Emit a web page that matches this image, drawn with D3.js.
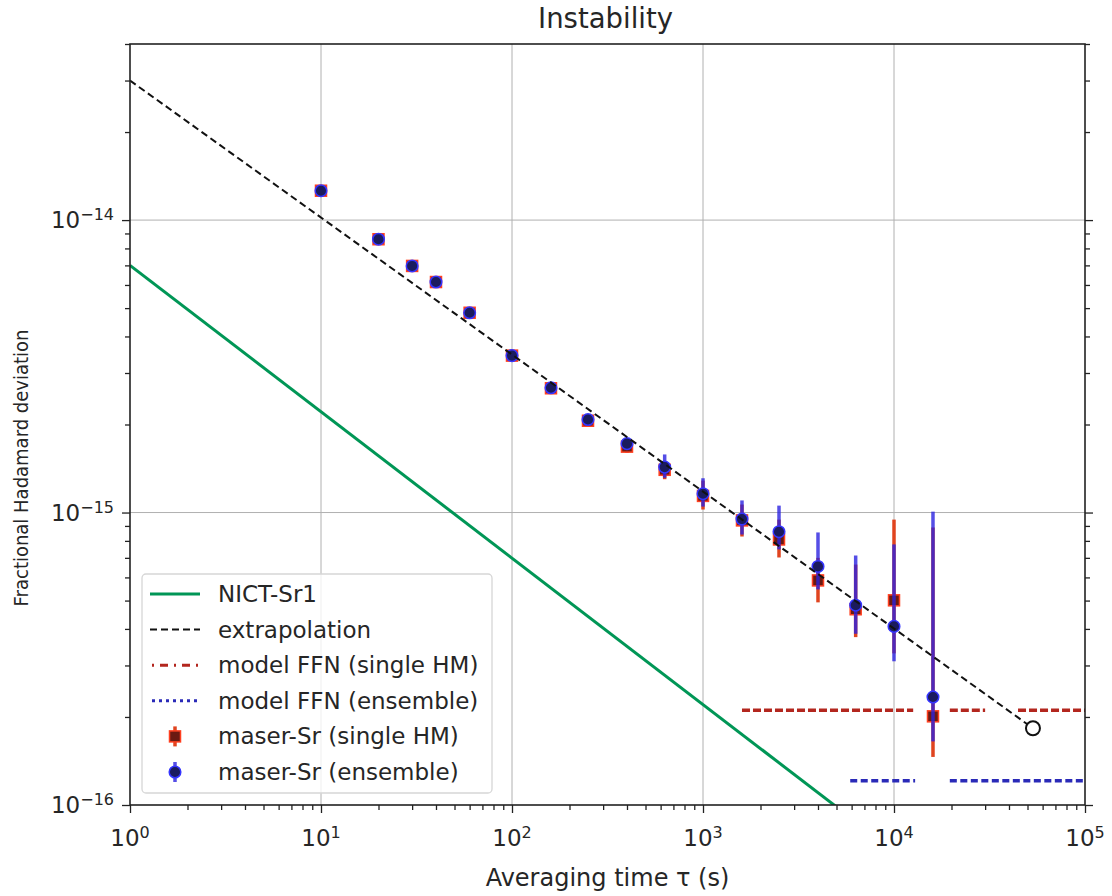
<!DOCTYPE html>
<html>
<head>
<meta charset="utf-8">
<script src="https://cdn.jsdelivr.net/npm/d3@7"></script>
<style>
  body { margin: 0; background: #fff; }
  text { font-family: "DejaVu Sans", sans-serif; fill: #262626; }
</style>
</head>
<body>
<div id="chart"></div>
<script>
// ---- data ----
const tauPts = [10, 20, 30, 40, 60, 100, 160, 250, 400, 630, 1000, 1600, 2500, 4000, 6300, 10000, 16000];

const ensVal = [1.26e-14, 8.6e-15, 6.97e-15, 6.14e-15, 4.82e-15, 3.44e-15, 2.67e-15, 2.08e-15, 1.72e-15, 1.43e-15, 1.16e-15, 9.5e-16, 8.6e-16, 6.54e-16, 4.82e-16, 4.08e-16, 2.34e-16];
const ensHi  = [1.28e-14, 8.75e-15, 7.08e-15, 6.24e-15, 4.9e-15, 3.5e-15, 2.73e-15, 2.14e-15, 1.78e-15, 1.58e-15, 1.31e-15, 1.10e-15, 1.056e-15, 8.55e-16, 7.13e-16, 7.78e-16, 1.007e-15];
const ensLo  = [1.24e-14, 8.45e-15, 6.86e-15, 6.04e-15, 4.74e-15, 3.38e-15, 2.61e-15, 2.02e-15, 1.64e-15, 1.315e-15, 1.048e-15, 8.41e-16, 7.48e-16, 5.46e-16, 3.85e-16, 3.10e-16, 1.65e-16];

const sglVal = [1.26e-14, 8.6e-15, 6.97e-15, 6.14e-15, 4.82e-15, 3.44e-15, 2.66e-15, 2.06e-15, 1.68e-15, 1.40e-15, 1.14e-15, 9.4e-16, 8.09e-16, 5.86e-16, 4.67e-16, 5.01e-16, 2.01e-16];
const sglHi  = [1.28e-14, 8.75e-15, 7.08e-15, 6.24e-15, 4.9e-15, 3.5e-15, 2.72e-15, 2.12e-15, 1.76e-15, 1.50e-15, 1.286e-15, 1.065e-15, 9.46e-16, 7.0e-16, 6.64e-16, 9.46e-16, 8.89e-16];
const sglLo  = [1.24e-14, 8.45e-15, 6.86e-15, 6.04e-15, 4.74e-15, 3.38e-15, 2.60e-15, 2.0e-15, 1.60e-15, 1.30e-15, 1.024e-15, 8.28e-16, 7.02e-16, 4.93e-16, 3.75e-16, 3.3e-16, 1.46e-16];

const nictTau = [1, 1e5];
const nictVal = [7e-15, 2.2e-17];

const extrTau = [1, 53400];
const extrVal = [3e-14, 1.83e-16];

const ffnSingleVal = 2.11e-16;
const ffnSingleSeg = [[1600, 12600], [19600, 30000], [44600, 1e5]];
const ffnEnsVal = 1.21e-16;
const ffnEnsSeg = [[5900, 12900], [19600, 1e5]];

const xMajor = [1, 10, 100, 1000, 10000, 100000];
const xExp = ["0", "1", "2", "3", "4", "5"];
const yMajor = [1e-16, 1e-15, 1e-14];
const yExp = ["\u221216", "\u221215", "\u221214"];

const legendLabels = ["NICT-Sr1", "extrapolation", "model FFN (single HM)", "model FFN (ensemble)", "maser-Sr (single HM)", "maser-Sr (ensemble)"];

// ---- layout ----
const W = 1112, H = 896;
const pL = 130, pR = 1085, pT = 44, pB = 805;

const svg = d3.select("#chart").append("svg")
  .attr("width", W).attr("height", H);

const x = d3.scaleLog().domain([1, 1e5]).range([pL, pR]);
const y = d3.scaleLog().domain([1e-16, 4e-14]).range([pB, pT]);

// minor tick values
const xMinor = [];
for (let e = 0; e < 5; e++) for (let k = 2; k <= 9; k++) xMinor.push(k * Math.pow(10, e));
const yMinor = [];
for (let e = -16; e < -13; e++) for (let k = 2; k <= 9; k++) {
  const v = k * Math.pow(10, e);
  if (v <= 4e-14) yMinor.push(v);
}

// Gridlines
const grid = svg.append("g").attr("stroke", "#b0b0b0").attr("stroke-width", 1);
xMajor.slice(1, -1).forEach(t => {
  grid.append("line").attr("x1", x(t)).attr("x2", x(t)).attr("y1", pT).attr("y2", pB);
});
yMajor.slice(1).forEach(t => {
  grid.append("line").attr("x1", pL).attr("x2", pR).attr("y1", y(t)).attr("y2", y(t));
});

// clip for plot area
svg.append("clipPath").attr("id", "clip")
  .append("rect").attr("x", pL).attr("y", pT).attr("width", pR - pL).attr("height", pB - pT);
const plot = svg.append("g").attr("clip-path", "url(#clip)");

const line = d3.line().x(d => x(d[0])).y(d => y(d[1]));

// NICT-Sr1
plot.append("path")
  .datum(nictTau.map((t, i) => [t, nictVal[i]]))
  .attr("d", line)
  .attr("fill", "none").attr("stroke", "#009656").attr("stroke-width", 3);

// model FFN lines
ffnSingleSeg.forEach(s => {
  plot.append("path").datum([[s[0], ffnSingleVal], [s[1], ffnSingleVal]])
    .attr("d", line).attr("fill", "none")
    .attr("stroke", "#b3261e").attr("stroke-width", 3.5)
    .attr("stroke-dasharray", "8,3");
});
ffnEnsSeg.forEach(s => {
  plot.append("path").datum([[s[0], ffnEnsVal], [s[1], ffnEnsVal]])
    .attr("d", line).attr("fill", "none")
    .attr("stroke", "#2a2ab8").attr("stroke-width", 3.5)
    .attr("stroke-dasharray", "7,3.5");
});

// maser-Sr (single HM)
const sgl = tauPts.map((t, i) => ({ t, v: sglVal[i], lo: sglLo[i], hi: sglHi[i] }));
plot.append("g").selectAll("line").data(sgl).join("line")
  .attr("x1", d => x(d.t)).attr("x2", d => x(d.t))
  .attr("y1", d => y(d.lo)).attr("y2", d => y(d.hi))
  .attr("stroke", "#e0441f").attr("stroke-width", 3.5);
plot.append("g").selectAll("rect").data(sgl).join("rect")
  .attr("x", d => x(d.t) - 5.5).attr("y", d => y(d.v) - 5.5)
  .attr("width", 11).attr("height", 11)
  .attr("fill", "#6b1a12").attr("stroke", "#ff4020").attr("stroke-width", 1.5);

// maser-Sr (ensemble)
const ens = tauPts.map((t, i) => ({ t, v: ensVal[i], lo: ensLo[i], hi: ensHi[i] }));
plot.append("g").selectAll("line").data(ens).join("line")
  .attr("x1", d => x(d.t)).attr("x2", d => x(d.t))
  .attr("y1", d => y(d.lo)).attr("y2", d => y(d.hi))
  .attr("stroke", "#2a22e0").attr("stroke-opacity", 0.8).attr("stroke-width", 3.5);
plot.append("g").selectAll("circle").data(ens).join("circle")
  .attr("cx", d => x(d.t)).attr("cy", d => y(d.v)).attr("r", 5.8)
  .attr("fill", "#1b1b5e").attr("stroke", "#3535ff").attr("stroke-width", 1.5);

// extrapolation
plot.append("path")
  .datum(extrTau.map((t, i) => [t, extrVal[i]]))
  .attr("d", line)
  .attr("fill", "none").attr("stroke", "#111").attr("stroke-width", 2)
  .attr("stroke-dasharray", "7,4");
plot.append("circle")
  .attr("cx", x(extrTau[1])).attr("cy", y(extrVal[1])).attr("r", 7)
  .attr("fill", "#fff").attr("stroke", "#111").attr("stroke-width", 2);

// Axes
const tickSize = 8, minorSize = 5;
const axB = svg.append("g").attr("transform", "translate(0," + pB + ")");
axB.call(d3.axisBottom(x).tickValues(xMinor).tickSize(minorSize).tickFormat(""));
axB.append("g").call(d3.axisBottom(x).tickValues(xMajor).tickSize(tickSize).tickFormat(""));

const axL = svg.append("g").attr("transform", "translate(" + pL + ",0)");
axL.call(d3.axisLeft(y).tickValues(yMinor).tickSize(minorSize).tickFormat(""));
axL.append("g").call(d3.axisLeft(y).tickValues(yMajor).tickSize(tickSize).tickFormat(""));

const axR = svg.append("g").attr("transform", "translate(" + pR + ",0)");
axR.call(d3.axisRight(y).tickValues(yMinor).tickSize(minorSize).tickFormat(""));
axR.append("g").call(d3.axisRight(y).tickValues(yMajor).tickSize(tickSize).tickFormat(""));

svg.selectAll(".domain").remove();
svg.selectAll(".tick line").attr("stroke", "#222").attr("stroke-width", 1.3);

// frame
svg.append("rect").attr("x", pL).attr("y", pT)
  .attr("width", pR - pL).attr("height", pB - pT)
  .attr("fill", "none").attr("stroke", "#222").attr("stroke-width", 1.6);

// tick labels with superscripts
xMajor.forEach((t, i) => {
  const tx = svg.append("text").attr("x", x(t)).attr("y", pB + 41)
    .attr("text-anchor", "middle").style("font-size", "23px");
  tx.append("tspan").text("10");
  tx.append("tspan").attr("dy", "-0.5em").style("font-size", "16px").text(xExp[i]);
});
yMajor.forEach((t, i) => {
  const ty = svg.append("text").attr("x", pL - 16).attr("y", y(t) + 8)
    .attr("text-anchor", "end").style("font-size", "23px");
  ty.append("tspan").text("10");
  ty.append("tspan").attr("dy", "-0.5em").style("font-size", "16px").text(yExp[i]);
});

// Axis labels and title
svg.append("text").attr("x", (pL + pR) / 2).attr("y", 886)
  .attr("text-anchor", "middle").style("font-size", "24px")
  .text("Averaging time \u03c4  (s)");
svg.append("text")
  .attr("transform", "translate(28,468) rotate(-90) scale(0.9,1)")
  .attr("text-anchor", "middle").style("font-size", "20px")
  .text("Fractional Hadamard deviation");
svg.append("text").attr("x", (pL + pR) / 2 - 2).attr("y", 28)
  .attr("text-anchor", "middle").style("font-size", "27.5px")
  .text("Instability");

// Legend
const lg = svg.append("g");
lg.append("rect").attr("x", 142).attr("y", 574).attr("width", 350).attr("height", 219)
  .attr("rx", 4).attr("fill", "#fff").attr("fill-opacity", 0.8)
  .attr("stroke", "#d6d6d6").attr("stroke-width", 1.3);
const rowY = d3.range(6).map(i => 594 + i * 35.6);
const hx0 = 150, hx1 = 200, hxc = 175;
lg.append("line").attr("x1", hx0).attr("x2", hx1).attr("y1", rowY[0]).attr("y2", rowY[0])
  .attr("stroke", "#009656").attr("stroke-width", 3);
lg.append("line").attr("x1", hx0).attr("x2", hx1).attr("y1", rowY[1]).attr("y2", rowY[1])
  .attr("stroke", "#111").attr("stroke-width", 2).attr("stroke-dasharray", "7,4");
lg.append("line").attr("x1", hx0 + 2).attr("x2", hx1).attr("y1", rowY[2]).attr("y2", rowY[2])
  .attr("stroke", "#b3261e").attr("stroke-width", 3).attr("stroke-dasharray", "2,6,8,6");
lg.append("line").attr("x1", hx0 + 2).attr("x2", hx1).attr("y1", rowY[3]).attr("y2", rowY[3])
  .attr("stroke", "#2a2ab8").attr("stroke-width", 3).attr("stroke-dasharray", "3,4");
lg.append("line").attr("x1", hxc).attr("x2", hxc).attr("y1", rowY[4] - 10).attr("y2", rowY[4] + 10)
  .attr("stroke", "#e0441f").attr("stroke-width", 3.5);
lg.append("rect").attr("x", hxc - 5.5).attr("y", rowY[4] - 5.5).attr("width", 11).attr("height", 11)
  .attr("fill", "#6b1a12").attr("stroke", "#ff4020").attr("stroke-width", 1.5);
lg.append("line").attr("x1", hxc).attr("x2", hxc).attr("y1", rowY[5] - 10).attr("y2", rowY[5] + 10)
  .attr("stroke", "#2a22e0").attr("stroke-opacity", 0.8).attr("stroke-width", 3.5);
lg.append("circle").attr("cx", hxc).attr("cy", rowY[5]).attr("r", 5.8)
  .attr("fill", "#1b1b5e").attr("stroke", "#3535ff").attr("stroke-width", 1.5);
legendLabels.forEach((l, i) => {
  lg.append("text").attr("x", 218).attr("y", rowY[i] + 8)
    .style("font-size", "23px").text(l);
});
</script>
</body>
</html>
